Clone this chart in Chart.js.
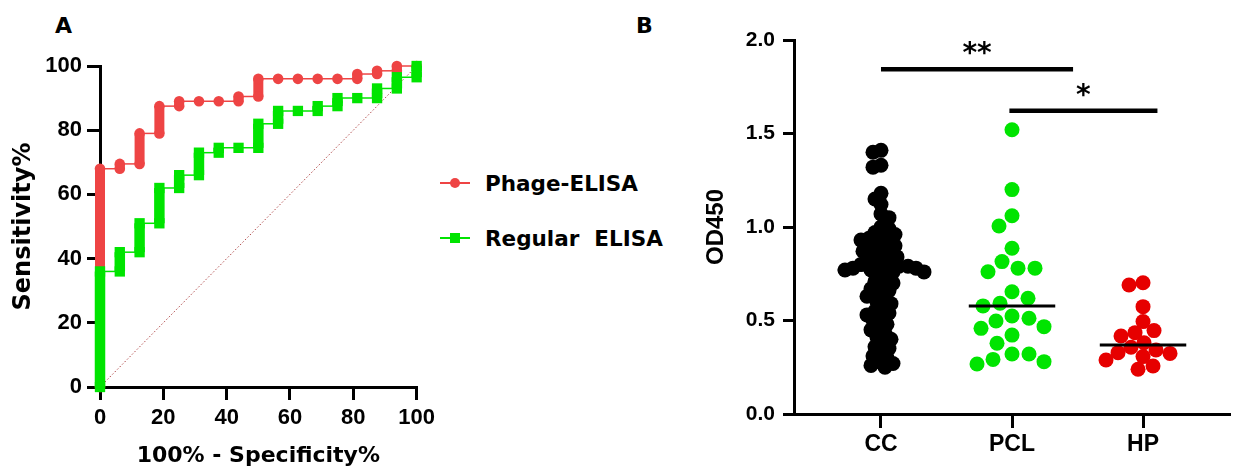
<!DOCTYPE html>
<html lang="en">
<head>
<meta charset="utf-8">
<title>ROC / OD450</title>
<script src="https://cdn.jsdelivr.net/npm/chart.js@4.4.1/dist/chart.umd.min.js"></script>
<style>
  html, body { margin: 0; padding: 0; background: #fff; }
  body { position: relative; width: 1237px; height: 472px; overflow: hidden; }
  canvas { position: absolute; top: 0; }
  #rocChart { left: 0; }
  #dotChart { left: 700px; }
  .panel-label { position: absolute; top: 13px; line-height: 1; font: bold 22px "DejaVu Sans", sans-serif; color: #000; }
  #rocLegend { position: absolute; left: 440px; top: 168px; font: bold 21.5px "DejaVu Sans", sans-serif; color: #000; }
  .leg-item { display: flex; align-items: center; height: 30px; margin-bottom: 25px; white-space: pre; }
  .leg-line { position: relative; width: 30px; height: 2px; margin-right: 15px; }
  .leg-mark { position: absolute; left: 10px; top: -4px; width: 10px; height: 10px; }
</style>
</head>
<body>
<div class="panel-label" style="left:55px">A</div>
<div class="panel-label" style="left:636px">B</div>
<canvas id="rocChart" width="440" height="472"></canvas>
<div id="rocLegend"></div>
<canvas id="dotChart" width="537" height="472"></canvas>

<script>
// ---- Painel A: curvas ROC (vertices da escada) ----
const phageFpr  = [0, 0, 6.25, 6.25, 12.5, 12.5, 18.75, 18.75, 25, 25, 31.25, 37.5, 43.75, 43.75, 50, 50, 56.25, 62.5, 68.75, 75, 81.25, 81.25, 87.5, 87.5, 93.75, 93.75, 100];
const phageSens = [0, 68, 68, 69.5, 69.5, 79, 79, 87.5, 87.5, 89, 89, 89, 89, 90.5, 90.5, 96, 96, 96, 96, 96, 96, 97.5, 97.5, 98.5, 98.5, 100, 100];

const regularFpr  = [0, 0, 6.25, 6.25, 12.5, 12.5, 18.75, 18.75, 25, 25, 31.25, 31.25, 37.5, 37.5, 43.75, 50, 50, 56.25, 56.25, 62.5, 68.75, 68.75, 75, 75, 81.25, 87.5, 87.5, 93.75, 93.75, 100, 100];
const regularSens = [0, 36, 36, 42, 42, 51, 51, 62, 62, 66, 66, 73, 73, 74.5, 74.5, 74.5, 82, 82, 86, 86, 86, 87.5, 87.5, 90, 90, 90, 93, 93, 96.5, 96.5, 100];

const rocTicks = [0, 20, 40, 60, 80, 100];

// ---- Painel B: OD450 por grupo ----
const groupNames = ['CC', 'PCL', 'HP'];
const ccValues = [1.41, 1.40, 1.33, 1.32, 1.18, 1.15, 1.12, 1.07, 1.05,
  1.00, 0.99, 0.97, 0.96, 0.95, 0.94, 0.93, 0.92, 0.91, 0.90, 0.89, 0.88, 0.87, 0.86, 0.85,
  0.84, 0.83, 0.82, 0.81, 0.80, 0.80, 0.79, 0.79, 0.78, 0.78, 0.78, 0.77, 0.77, 0.76, 0.76, 0.75,
  0.73, 0.71, 0.70, 0.69, 0.67, 0.66, 0.65, 0.63, 0.62, 0.60, 0.59, 0.57, 0.55, 0.54, 0.53, 0.51,
  0.50, 0.48, 0.46, 0.45, 0.43, 0.41, 0.40, 0.38, 0.36, 0.35, 0.33, 0.31, 0.30, 0.28, 0.27, 0.26, 0.25];
const pclValues = [1.52, 1.20, 1.06, 1.005, 0.886, 0.815, 0.78, 0.78, 0.761, 0.654, 0.619, 0.592, 0.578,
  0.524, 0.512, 0.497, 0.467, 0.458, 0.422, 0.378, 0.321, 0.321, 0.292, 0.280, 0.267];
const hpValues = [0.702, 0.69, 0.574, 0.494, 0.446, 0.435, 0.417, 0.381, 0.357, 0.342, 0.328, 0.324,
  0.307, 0.289, 0.257, 0.239];
const odTicks = [0, 0.5, 1.0, 1.5, 2.0];

// barras de significancia (em unidades de categoria)
const sigBars = [
  { from: 0, to: 1.466, y: 1.843, label: '**' },
  { from: 0.98, to: 2.11, y: 1.622, label: '*' }
];

const wideFont = '"DejaVu Sans", sans-serif';
const arialFont = '"Liberation Sans", Arial, sans-serif';

function toPoints(xs, ys) {
  return xs.map((x, i) => ({ x: x, y: ys[i] }));
}

// Trecho vertical da escada fica grosso (como os marcadores empilhados)
function stairWidth(thick) {
  return ctx => (ctx.p0.parsed.x === ctx.p1.parsed.x ? thick : 1.5);
}

const axisGrid = len => ({ drawOnChartArea: false, drawTicks: true, tickLength: len, lineWidth: 3, color: '#000' });
const axisBorder = { color: '#000', width: 3 };

// Chart ROC
const rocChart = new Chart(document.getElementById('rocChart'), {
  type: 'scatter',
  data: {
    datasets: [
      {
        label: 'Regular  ELISA',
        data: toPoints(regularFpr, regularSens),
        showLine: true,
        borderColor: '#00E400',
        backgroundColor: '#00E400',
        pointStyle: 'rect',
        pointRadius: 7.3,
        pointBorderWidth: 0,
        segment: { borderWidth: stairWidth(10.5) },
        clip: false,
        order: 0
      },
      {
        label: 'Phage-ELISA',
        data: toPoints(phageFpr, phageSens),
        showLine: true,
        borderColor: '#EE4444',
        backgroundColor: '#EE4444',
        pointStyle: 'circle',
        pointRadius: 5.3,
        pointBorderWidth: 0,
        segment: { borderWidth: stairWidth(10) },
        clip: false,
        order: 1
      },
      {
        label: 'ref',
        data: [{ x: 0, y: 0 }, { x: 100, y: 100 }],
        showLine: true,
        borderColor: '#B04848',
        borderWidth: 1,
        borderDash: [1.5, 2],
        pointRadius: 0,
        order: 2
      }
    ]
  },
  options: {
    responsive: false,
    animation: false,
    layout: { padding: { left: 9, top: 66, right: 21, bottom: 0 } },
    plugins: { legend: { display: false }, tooltip: { enabled: false } },
    scales: {
      x: {
        type: 'linear', min: 0, max: 100,
        afterBuildTicks: s => { s.ticks = rocTicks.map(v => ({ value: v })); },
        ticks: { color: '#000', font: { family: arialFont, size: 22, weight: 'bold' }, padding: 5, maxRotation: 0 },
        grid: axisGrid(13),
        border: axisBorder,
        title: { display: true, text: '100% - Specificity%', color: '#000', font: { family: wideFont, size: 22, weight: 'bold' }, padding: { top: 0, bottom: 3 } },
        afterFit: s => { s.height = 85; }
      },
      y: {
        type: 'linear', min: 0, max: 100,
        afterBuildTicks: s => { s.ticks = rocTicks.map(v => ({ value: v })); },
        ticks: { color: '#000', font: { family: arialFont, size: 22, weight: 'bold' }, padding: 5 },
        grid: axisGrid(13),
        border: axisBorder,
        title: { display: true, text: 'Sensitivity%', color: '#000', font: { family: wideFont, size: 24, weight: 'bold' }, padding: { top: 0, bottom: 0 } },
        afterFit: s => { s.width = 91; }
      }
    }
  }
});

// Legenda HTML
const legendBox = document.getElementById('rocLegend');
rocChart.data.datasets.slice(0, 2).reverse().forEach(ds => {
  const item = document.createElement('div');
  item.className = 'leg-item';
  const radius = ds.pointStyle === 'circle' ? '50%' : '0';
  item.innerHTML = `
    <span class="leg-line" style="background:${ds.borderColor}">
      <span class="leg-mark" style="background:${ds.backgroundColor};border-radius:${radius}"></span>
    </span>${ds.label}`;
  legendBox.appendChild(item);
});

// ---- Chart de pontos (Painel B) ----
function median(arr) {
  const s = [...arr].sort((a, b) => a - b);
  const m = Math.floor(s.length / 2);
  return s.length % 2 ? s[m] : (s[m - 1] + s[m]) / 2;
}

// beeswarm simples: desloca cada ponto o minimo necessario para nao colidir
function swarm(values, pxPerUnitY, minDist) {
  const order = values.map((v, i) => i).sort((a, b) => values[b] - values[a]);
  const placed = [];
  const offsets = new Array(values.length).fill(0);
  order.forEach((i, n) => {
    const py = values[i] * pxPerUnitY;
    let chosen = 0;
    for (let k = 0; k < 300; k++) {
      const tries = k === 0 ? [0] : (n % 2 ? [-k, k] : [k, -k]);
      const ok = tries.find(t => placed.every(p => Math.hypot(p.x - t, p.y - py) >= minDist));
      if (ok !== undefined) { chosen = ok; break; }
    }
    placed.push({ x: chosen, y: py });
    offsets[i] = chosen;
  });
  return offsets;
}

const groups = [
  { values: ccValues, color: '#000000', minDist: 8.2 },
  { values: pclValues, color: '#00E400', minDist: 16.5 },
  { values: hpValues, color: '#E60000', minDist: 13.5 }
];

const dotDatasets = groups.map((g, gi) => ({
  data: g.values.map(v => ({ x: gi, y: v })),
  backgroundColor: g.color,
  borderWidth: 0,
  pointRadius: 7.5,
  clip: false,
  order: 2
}));

const medianDatasets = groups.map((g, gi) => ({
  data: [{ x: gi - 0.33, y: median(g.values) }, { x: gi + 0.33, y: median(g.values) }],
  showLine: true,
  borderColor: '#000',
  borderWidth: 3,
  pointRadius: 0,
  order: 0
}));

const sigDatasets = sigBars.map(b => ({
  data: [{ x: b.from, y: b.y }, { x: b.to, y: b.y }],
  showLine: true,
  borderColor: '#000',
  borderWidth: 4.5,
  pointRadius: 0,
  clip: false,
  order: 0
}));

const starsPlugin = {
  id: 'stars',
  afterDatasetsDraw(chart) {
    const { ctx, scales } = chart;
    ctx.save();
    ctx.fillStyle = '#000';
    ctx.font = 'bold 28px ' + wideFont;
    ctx.textAlign = 'center';
    ctx.textBaseline = 'alphabetic';
    sigBars.forEach(b => {
      const x = scales.x.getPixelForValue((b.from + b.to) / 2);
      const y = scales.y.getPixelForValue(b.y) - 7;
      ctx.fillText(b.label, x, y);
    });
    ctx.restore();
  }
};

const dotChart = new Chart(document.getElementById('dotChart'), {
  type: 'scatter',
  data: { datasets: [...medianDatasets, ...sigDatasets, ...dotDatasets] },
  options: {
    responsive: false,
    animation: false,
    layout: { padding: { left: 2, top: 40, right: 0, bottom: 0 } },
    plugins: { legend: { display: false }, tooltip: { enabled: false } },
    scales: {
      x: {
        type: 'linear', min: -0.664, max: 2.66,
        afterBuildTicks: s => { s.ticks = groupNames.map((g, i) => ({ value: i })); },
        ticks: { color: '#000', font: { family: arialFont, size: 23, weight: 'bold' }, padding: 3, maxRotation: 0, autoSkip: false,
                 callback: v => groupNames[v] },
        grid: axisGrid(14),
        border: axisBorder,
        afterFit: s => { s.height = 58; }
      },
      y: {
        type: 'linear', min: 0, max: 2,
        afterBuildTicks: s => { s.ticks = odTicks.map(v => ({ value: v })); },
        ticks: { color: '#000', font: { family: arialFont, size: 21, weight: 'bold' }, padding: 8, callback: v => v.toFixed(1) },
        grid: axisGrid(11),
        border: axisBorder,
        title: { display: true, text: 'OD450', color: '#000', font: { family: arialFont, size: 24, weight: 'bold' }, padding: { top: 0, bottom: 0 } },
        afterFit: s => { s.width = 92; }
      }
    }
  },
  plugins: [starsPlugin]
});

// segunda passada: espalhar os pontos com a escala real em pixels
const pxX = dotChart.scales.x.getPixelForValue(1) - dotChart.scales.x.getPixelForValue(0);
const pxY = dotChart.scales.y.getPixelForValue(0) - dotChart.scales.y.getPixelForValue(1);
groups.forEach((g, gi) => {
  const offs = swarm(g.values, pxY, g.minDist);
  dotDatasets[gi].data = g.values.map((v, i) => ({ x: gi + offs[i] / pxX, y: v }));
});
dotChart.update('none');
</script>
</body>
</html>
